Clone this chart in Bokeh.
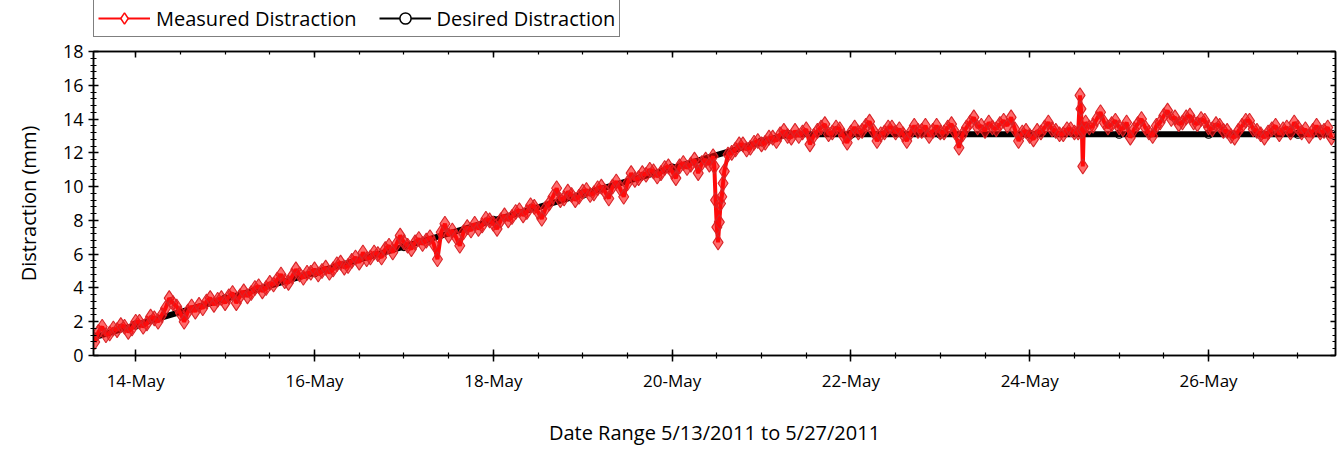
import datetime as dt
from bokeh.plotting import figure
from bokeh.layouts import column
from bokeh.models import (Range1d, FixedTicker, SingleIntervalTicker, DatetimeTickFormatter,
                          DatetimeAxis, LinearAxis, Legend, LegendItem, ColumnDataSource,
                          CustomJSTickFormatter)
from bokeh.embed import file_html
from bokeh.resources import INLINE

# ---------------- data ----------------
# Measured distraction, sampled hourly starting 13-May-2011 13:00 (one row per day)
meas_start = dt.datetime(2011, 5, 13, 13, 0)
meas_step_hours = 1
meas_mm = [
    0.8, 1.4, 1.7, 1.2, 1.3, 1.6, 1.5, 1.8, 1.7, 1.4, 1.6, 2.0, 2.0, 1.7, 1.9, 2.3, 2.2, 2.0, 2.4, 2.8, 3.4, 3.1, 2.9, 2.5,
    2.0, 2.6, 2.9, 2.6, 3.0, 2.8, 3.2, 3.4, 3.0, 3.3, 3.4, 3.1, 3.5, 3.7, 3.1, 3.5, 3.8, 3.5, 3.7, 4.0, 4.1, 3.8, 4.0, 4.3,
    4.2, 4.5, 4.8, 4.4, 4.3, 4.7, 5.1, 4.8, 4.6, 4.9, 4.9, 5.1, 4.8, 5.0, 5.2, 4.9, 5.1, 5.4, 5.5, 5.2, 5.3, 5.6, 5.8, 5.5,
    6.1, 5.7, 5.8, 6.1, 6.0, 5.8, 6.3, 6.5, 6.1, 6.6, 7.1, 6.7, 6.5, 6.3, 6.7, 6.9, 6.6, 6.8, 7.0, 6.6, 5.7, 7.3, 7.8, 7.1,
    7.4, 7.0, 6.5, 7.3, 7.6, 7.4, 7.8, 7.5, 7.7, 8.1, 8.0, 7.8, 7.5, 8.0, 8.3, 8.0, 8.2, 8.5, 8.6, 8.3, 8.5, 8.9, 8.8, 8.5,
    8.1, 8.7, 9.0, 9.4, 9.9, 9.2, 9.3, 9.7, 9.5, 9.2, 9.4, 9.7, 9.8, 9.5, 9.6, 9.9, 10.0, 9.7, 9.3, 10.0, 10.3, 9.9, 9.4, 10.2,
    10.8, 10.4, 10.5, 10.8, 10.7, 11.0, 10.9, 10.6, 10.8, 11.1, 11.2, 10.9, 10.5, 11.2, 11.4, 11.1, 11.3, 11.6, 10.8, 11.4, 11.6, 11.3, 11.8, 7.6,
    9.0, 10.9, 11.9, 12.0, 12.2, 12.5, 12.5, 12.2, 12.3, 12.6, 12.7, 12.5, 12.6, 12.9, 12.9, 12.7, 13.1, 13.3, 13.0, 12.9, 13.3, 13.0, 13.2, 13.4,
    12.5, 13.0, 13.3, 13.5, 13.7, 13.1, 13.2, 13.5, 13.4, 13.0, 12.6, 13.2, 13.5, 13.2, 13.3, 13.6, 13.85, 13.3, 12.7, 13.1, 13.2, 13.5, 13.5, 13.2,
    13.4, 13.1, 12.7, 13.2, 13.6, 13.3, 13.3, 13.6, 13.0, 13.3, 13.6, 13.2, 13.2, 13.5, 13.7, 13.2, 12.3, 13.1, 13.5, 13.8, 14.1, 13.5, 13.6, 13.3,
    13.8, 13.5, 13.4, 13.7, 13.9, 13.6, 14.1, 13.4, 12.7, 13.2, 13.3, 13.0, 12.8, 13.3, 13.2, 13.5, 13.8, 13.4, 13.3, 13.1, 13.1, 13.4, 13.4, 13.2,
    13.2, 13.3, 13.8, 13.5, 13.6, 14.0, 14.4, 13.8, 13.5, 13.7, 13.9, 13.5, 13.4, 13.8, 12.9, 13.4, 13.7, 14.0, 13.5, 13.2, 13.0, 13.6, 13.8, 14.2,
    14.5, 14.0, 14.1, 13.7, 13.8, 14.1, 14.2, 13.8, 13.7, 14.0, 13.9, 13.5, 13.4, 13.7, 13.6, 13.3, 13.3, 13.0, 12.9, 13.3, 13.6, 13.9, 13.9, 13.4,
    13.3, 13.1, 12.9, 13.2, 13.4, 13.6, 13.1, 13.4, 13.5, 13.2, 13.8, 13.5, 13.2, 13.4, 13.0, 13.3, 13.6, 13.2, 13.3, 13.5, 12.9,
]
# short excursions recorded between the hourly samples
dip_times = ["2011-05-20 11:20", "2011-05-20 11:40", "2011-05-20 12:20",
             "2011-05-20 12:40", "2011-05-20 13:20", "2011-05-20 13:40"]
dip_mm = [11.2, 9.2, 6.7, 7.9, 9.4, 10.2]
spike_times = ["2011-05-24 13:30", "2011-05-24 13:45", "2011-05-24 14:15", "2011-05-24 14:30"]
spike_mm = [15.4, 14.6, 11.2, 13.4]

# Desired distraction
des_times = ["2011-05-13 13:00", "2011-05-14 00:00", "2011-05-15 00:00", "2011-05-16 00:00",
             "2011-05-17 00:00", "2011-05-18 00:00", "2011-05-19 00:00", "2011-05-20 00:00",
             "2011-05-21 00:00", "2011-05-21 07:00", "2011-05-22 00:00", "2011-05-23 00:00",
             "2011-05-24 00:00", "2011-05-25 00:00", "2011-05-26 00:00", "2011-05-27 00:00",
             "2011-05-27 09:00"]
des_mm = [1.09, 1.80, 3.35, 4.90, 6.45, 8.00, 9.55, 11.10, 12.65, 13.1, 13.1, 13.1,
          13.1, 13.1, 13.1, 13.1, 13.1]

x_tick_days = ["2011-05-14", "2011-05-16", "2011-05-18", "2011-05-20",
               "2011-05-22", "2011-05-24", "2011-05-26"]

# ---------------- build ----------------
def p_t(s):
    return dt.datetime.fromisoformat(s)

reg_times = [meas_start + dt.timedelta(hours=meas_step_hours * i) for i in range(len(meas_mm))]
pairs = list(zip(reg_times, meas_mm)) + \
        list(zip([p_t(s) for s in dip_times], dip_mm)) + \
        list(zip([p_t(s) for s in spike_times], spike_mm))
pairs.sort(key=lambda a: a[0])
meas_src = ColumnDataSource(dict(t=[a[0] for a in pairs], v=[a[1] for a in pairs]))
des_src = ColumnDataSource(dict(t=[p_t(s) for s in des_times], v=des_mm))

FONT = "Open Sans"
RED = "#ff0a0a"
LEG_H = 38

p = figure(width=1342, height=449 - LEG_H, x_axis_type="datetime", output_backend="svg",
           toolbar_location=None,
           x_range=Range1d(dt.datetime(2011, 5, 13, 12, 40), dt.datetime(2011, 5, 27, 10, 5)),
           y_range=Range1d(0, 18),
           min_border_left=93, min_border_right=7, min_border_bottom=94,
           min_border_top=51 - LEG_H)
p.background_fill_color = "white"
p.border_fill_color = "white"
p.outline_line_color = "black"
p.outline_line_width = 1.5
p.xgrid.visible = False
p.ygrid.visible = False

p.line("t", "v", source=des_src, line_color="black", line_width=6)
p.scatter("t", "v", source=des_src, marker="circle", size=8,
          line_color="black", fill_alpha=0, line_width=1.2)
p.line("t", "v", source=meas_src, line_color=RED, line_width=4)
p.scatter("t", "v", source=meas_src, marker="diamond", size=15,
          line_color="#d8262a", fill_color=RED, fill_alpha=0.6, line_width=1.1)

# ticks
def ms(d):
    return (d - dt.datetime(1970, 1, 1)).total_seconds() * 1000.0

major = [ms(p_t(s + " 00:00")) for s in x_tick_days]
t0 = dt.datetime(2011, 5, 13, 12, 0)
minor = [ms(t0 + dt.timedelta(hours=12 * i)) for i in range(30)]
xt = FixedTicker(ticks=major, minor_ticks=minor)
fmt = DatetimeTickFormatter(microseconds="%d-%b", milliseconds="%d-%b", seconds="%d-%b",
                            minsec="%d-%b", minutes="%d-%b", hourmin="%d-%b", hours="%d-%b",
                            days="%d-%b", months="%d-%b", years="%d-%b")
yt = SingleIntervalTicker(interval=2, num_minor_ticks=5)

xa = p.xaxis[0]
xa.ticker = xt
xa.formatter = fmt
ya = p.yaxis[0]
ya.ticker = yt

for ax in (xa, ya):
    ax.axis_line_color = "black"
    ax.axis_line_width = 1.5
    ax.major_tick_line_color = "black"
    ax.minor_tick_line_color = "black"
    ax.major_tick_line_width = 1.5
    ax.minor_tick_line_width = 1.2
    ax.major_label_text_font = FONT
    ax.axis_label_text_font = FONT
    ax.axis_label_text_font_style = "normal"
    ax.major_label_text_color = "black"
    ax.axis_label_text_color = "black"

xa.major_tick_in = 6
xa.major_tick_out = 6
xa.minor_tick_in = 3
xa.minor_tick_out = 3
xa.major_label_standoff = 7
xa.major_label_text_font_size = "17px"
xa.axis_label = "Date Range 5/13/2011 to 5/27/2011"
xa.axis_label_text_font_size = "20px"
xa.axis_label_standoff = 24

ya.major_tick_in = 5
ya.major_tick_out = 5
ya.minor_tick_in = 3
ya.minor_tick_out = 3
ya.major_label_standoff = 5
ya.major_label_text_font_size = "18px"
ya.axis_label = "Distraction (mm)"
ya.axis_label_text_font_size = "20px"
ya.axis_label_standoff = 18

# mirrored axes (ticks only, empty labels)
blank = CustomJSTickFormatter(code="return ''")
top = DatetimeAxis(ticker=xt, formatter=blank,
                   major_tick_in=6, major_tick_out=0, minor_tick_in=3, minor_tick_out=0,
                   major_label_standoff=0, axis_line_color="black", axis_line_width=1.5,
                   major_tick_line_width=1.5, minor_tick_line_width=1.2)
right = LinearAxis(ticker=yt, formatter=blank,
                   major_tick_in=5, major_tick_out=0, minor_tick_in=3, minor_tick_out=0,
                   major_label_standoff=0, axis_line_color="black", axis_line_width=1.5,
                   major_tick_line_width=1.5, minor_tick_line_width=1.2)
p.add_layout(top, "above")
p.add_layout(right, "right")

# ---- legend strip (separate figure above the chart) ----
lf = figure(width=1342, height=LEG_H, output_backend="svg", toolbar_location=None,
            x_range=Range1d(0, 1), y_range=Range1d(0, 1),
            min_border_left=0, min_border_right=0, min_border_top=0, min_border_bottom=0)
lf.axis.visible = False
lf.grid.visible = False
lf.outline_line_color = None
lf.background_fill_color = "white"
lf.border_fill_color = "white"
off = ColumnDataSource(dict(x=[-5.0], y=[-5.0]))   # keys only, placed off-canvas
lm_l = lf.line("x", "y", source=off, line_color=RED, line_width=2)
lm_m = lf.scatter("x", "y", source=off, marker="diamond", size=13,
                  line_color=RED, fill_color="white", line_width=1.5)
ld_l = lf.line("x", "y", source=off, line_color="black", line_width=2)
ld_m = lf.scatter("x", "y", source=off, marker="circle", size=13,
                  line_color="black", fill_color="white", line_width=1.5)

legend = Legend(items=[LegendItem(label="Measured Distraction", renderers=[lm_l, lm_m]),
                       LegendItem(label="Desired Distraction", renderers=[ld_l, ld_m])],
                orientation="horizontal", location=(0, 1),
                label_text_font=FONT, label_text_font_size="20px", label_text_color="black",
                glyph_width=52, glyph_height=28, label_standoff=6, spacing=22,
                padding=4, margin=0, border_line_color="black", border_line_width=1.5,
                background_fill_color="white")
lf.add_layout(legend)

layout = column(lf, p, spacing=0)
open("out.html", "w").write(file_html(layout, INLINE))
